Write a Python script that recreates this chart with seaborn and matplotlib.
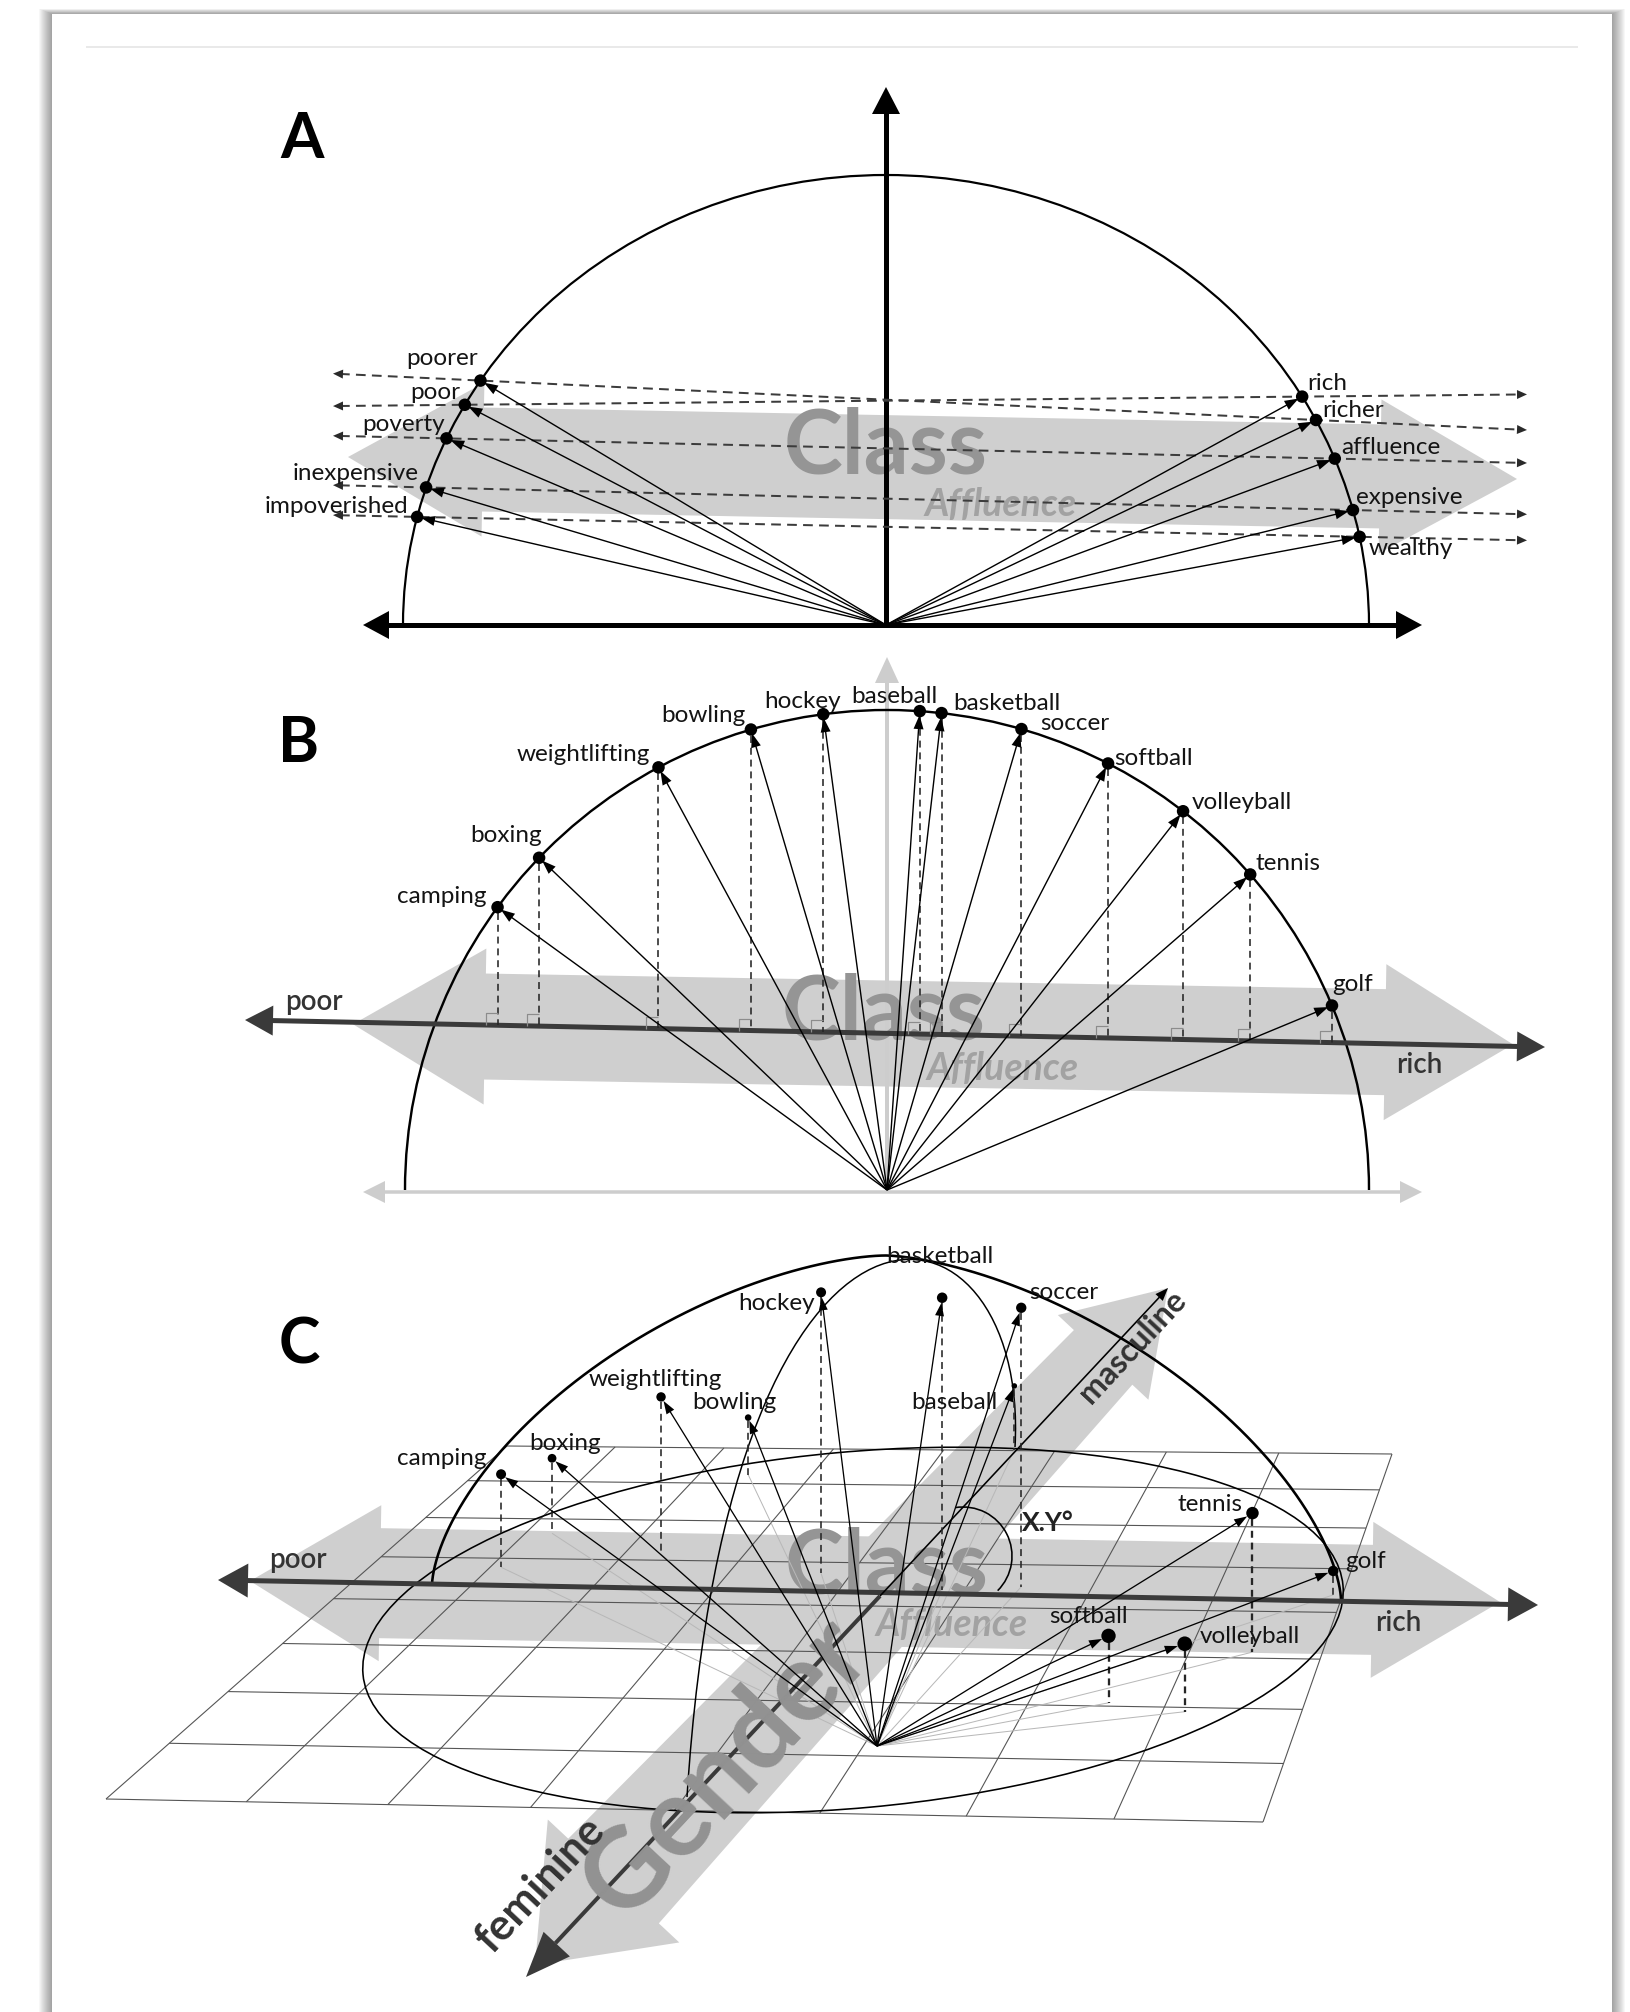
import numpy as np
import pandas as pd
import matplotlib
matplotlib.use("Agg")
import matplotlib.pyplot as plt
from matplotlib.patches import Polygon, Arc, Rectangle, Ellipse, PathPatch
from matplotlib.path import Path
import seaborn as sns

# ---------------------------------------------------------------- data
# Panel A: antonym words on the half circle (angle in degrees)
A_LEFT_WORDS = ["poorer", "poor", "poverty", "inexpensive", "impoverished"]
A_LEFT_ANGLES = [147.1, 150.7, 155.5, 162.2, 166.1]
A_RIGHT_WORDS = ["rich", "richer", "affluence", "expensive", "wealthy"]
A_RIGHT_ANGLES = [30.5, 27.1, 21.7, 14.8, 11.3]
A_PAIRS = [("poorer", "richer"), ("poor", "rich"), ("poverty", "affluence"),
           ("inexpensive", "expensive"), ("impoverished", "wealthy")]

# Panel B: sports on the half circle (angle in degrees)
B_SPORTS = ["camping", "boxing", "weightlifting", "bowling", "hockey", "baseball",
            "basketball", "soccer", "softball", "volleyball", "tennis", "golf"]
B_ANGLES = [143.9, 136.2, 118.3, 106.4, 97.6, 86.1, 83.5, 73.8, 62.7, 52.1, 41.1, 22.6]

# Panel C: sports in class / gender / height space
C_SPORTS = ["camping", "boxing", "weightlifting", "bowling", "hockey", "basketball",
            "soccer", "baseball", "tennis", "golf", "softball", "volleyball"]
C_CLASS = [-5.33, -5.14, -3.88, -3.75, -2.13, -0.79, -0.04, -1.36, 2.83, 3.10, 1.88, 2.71]
C_GENDER = [2.31, 2.78, 2.53, 3.62, 2.31, 2.12, 2.18, 4.02, 1.36, 2.15, 0.64, 0.54]
C_HEIGHT = [0.93, 0.75, 1.57, 0.57, 2.81, 2.92, 2.79, 0.64, 1.39, 0.24, 0.67, 0.68]

# label placement (alignment, dx, dy in pixels)
A_LEFT_LAYOUT = [(-3, -22), (-5, -12), (-2, -14), (-7, -14), (-9, -10)]
A_RIGHT_LAYOUT = [(5, -13), (6, -10), (6, -11), (3, -13), (9, 12)]
B_LAYOUT = [("right", -11, -11), ("right", 3, -22), ("right", -9, -13), ("right", -5, -14),
            ("right", 18, -13), ("right", 18, -15), ("left", 12, -10), ("left", 19, -6),
            ("left", 6, -5), ("left", 9, -9), ("left", 5, -11), ("left", 0, -21)]
C_LAYOUT = [("right", -15, -16), ("left", -23, -15), ("center", -6, -17), ("center", -14, -15),
            ("right", -6, 11), ("center", -2, -41), ("left", 8, -15), ("right", -17, 17),
            ("right", -10, -9), ("left", 12, -9), ("center", -20, -19), ("left", 15, -7)]

# ---------------------------------------------------------------- setup
sns.set_theme(style="white")
plt.rcParams["font.family"] = ["Lato", "DejaVu Sans"]
plt.rcParams["lines.scale_dashes"] = False
plt.rcParams["lines.solid_capstyle"] = "butt"

W, H = 1630, 2012
PT = 0.72  # points per pixel at 100 dpi
fig = plt.figure(figsize=(W / 100, H / 100), dpi=100)
ax = fig.add_axes([0, 0, 1, 1])
ax.set_xlim(0, W)
ax.set_ylim(H, 0)
ax.axis("off")

BAND = "#cfcfcf"
GREYTXT = "#959595"
AFFL = "#a2a2a2"
INK = "#141414"
AXIS_DARK = "#3a3a3a"
LBL = 17.5


def unit(v):
    v = np.asarray(v, float)
    return v / np.hypot(*v)


def head(tip, direction, length, hw, color="black", z=5):
    tip = np.asarray(tip, float)
    d = unit(direction)
    n = np.array([-d[1], d[0]])
    base = tip - d * length
    ax.add_patch(Polygon([tip, base + n * hw, base - n * hw], closed=True,
                         fc=color, ec="none", zorder=z))


def line(p0, p1, lw, color="black", z=3, dashes=None):
    ln, = ax.plot([p0[0], p1[0]], [p0[1], p1[1]], color=color, lw=lw * PT, zorder=z)
    if dashes is not None:
        ln.set_dashes(dashes)
    return ln


def arrow(p0, p1, lw, hl, hw, color="black", z=3, both=False, dashes=None, back=0.0):
    p0 = np.asarray(p0, float)
    p1 = np.asarray(p1, float)
    d = unit(p1 - p0)
    tip1 = p1 - d * back
    a = p0 + d * (hl * 0.8) if both else p0
    line(a, tip1 - d * hl * 0.8, lw, color, z, dashes)
    head(tip1, d, hl, hw, color, z + 0.5)
    if both:
        head(p0, -d, hl, hw, color, z + 0.5)


def band(t0, t1, bw0, bw1, hl0, hl1, hw0, hw1, color=BAND, z=1):
    t0 = np.asarray(t0, float)
    t1 = np.asarray(t1, float)
    d = unit(t1 - t0)
    n = np.array([-d[1], d[0]])
    b0 = t0 + d * hl0
    b1 = t1 - d * hl1
    pts = [t0, b0 + n * hw0, b0 + n * bw0, b1 + n * bw1, b1 + n * hw1, t1,
           b1 - n * hw1, b1 - n * bw1, b0 - n * bw0, b0 - n * hw0]
    ax.add_patch(Polygon(pts, closed=True, fc=color, ec="none", zorder=z))


def txt(x, y, s, size, ha="center", color=INK, z=7, **kw):
    ax.text(x, y, s, ha=ha, va="center", fontsize=size, color=color, zorder=z, **kw)


def dots(xs, ys, diam, z=6):
    df = pd.DataFrame({"x": xs, "y": ys})
    sizes = (np.asarray(diam, float) * PT) ** 2 * np.ones(len(df))
    sns.scatterplot(data=df, x="x", y="y", s=sizes, color="black", edgecolor="none",
                    linewidth=0, ax=ax, legend=False, zorder=z)


# ---------------------------------------------------------------- card
for k in range(1, 14):
    ax.add_patch(Rectangle((52 - k, 14 - 0.4 * k), 1560 + 2 * k, 2100, fc="black",
                           ec="none", alpha=0.03, zorder=0))
ax.add_patch(Rectangle((52, 14), 1560, 2100, fc="white", ec="none", zorder=0.1))
ax.plot([86, 1578], [47, 47], color="#e3e3e3", lw=1.5 * PT, zorder=0.2)

# ---------------------------------------------------------------- panel A
ACX, ACY, ARX, ARY = 886, 625, 483, 450


def a_pt(deg):
    t = np.radians(deg)
    return np.array([ACX + ARX * np.cos(t), ACY - ARY * np.sin(t)])


txt(302, 140, "A", 45, weight="bold", color="black")
band((348, 457), (1517, 479), 52, 52, 135, 137, 77, 77)
txt(886, 447, "Class", 64, weight="bold", color=GREYTXT, z=2)
txt(1001, 504, "Affluence", 27, style="italic", weight="bold", color=AFFL, z=2)

ax.add_patch(Arc((ACX, ACY), 2 * ARX, 2 * ARY, theta1=180, theta2=360,
                 color="black", lw=2.2 * PT, zorder=3))
arrow((363, ACY), (1422, ACY), 5, 26, 14, both=True, z=3)
arrow((ACX, ACY), (ACX, 87), 5, 27, 14, z=3)

a_pos = {w: a_pt(g) for w, g in zip(A_LEFT_WORDS + A_RIGHT_WORDS, A_LEFT_ANGLES + A_RIGHT_ANGLES)}
for lw_, rw_ in A_PAIRS:
    L, R = a_pos[lw_], a_pos[rw_]
    slope = (R[1] - L[1]) / (R[0] - L[0])
    x0, x1 = 333, 1527
    p0 = np.array([x0, L[1] + slope * (x0 - L[0])])
    p1 = np.array([x1, L[1] + slope * (x1 - L[0])])
    line(p0 + unit(p1 - p0) * 7, p1 - unit(p1 - p0) * 7, 2.0, "#3c3c3c", 3, (7, 4.5))
    head(p0, p0 - p1, 10, 4.5, "#2a2a2a", 3.5)
    head(p1, p1 - p0, 10, 4.5, "#2a2a2a", 3.5)

for w in A_LEFT_WORDS + A_RIGHT_WORDS:
    arrow((ACX, ACY), a_pos[w], 1.4, 14, 5, z=4, back=4)
dots([a_pos[w][0] for w in a_pos], [a_pos[w][1] for w in a_pos], 12.5)
for w, (dx, dy) in zip(A_LEFT_WORDS, A_LEFT_LAYOUT):
    txt(a_pos[w][0] + dx, a_pos[w][1] + dy, w, LBL, ha="right")
for w, (dx, dy) in zip(A_RIGHT_WORDS, A_RIGHT_LAYOUT):
    txt(a_pos[w][0] + dx, a_pos[w][1] + dy, w, LBL, ha="left")

# ---------------------------------------------------------------- panel B
BCX, BCY, BRX, BRY = 887, 1190, 482, 480


def b_pt(deg):
    t = np.radians(deg)
    return np.array([BCX + BRX * np.cos(t), BCY - BRY * np.sin(t)])


def b_axis_y(x):
    return 1020 + 0.0208 * (x - 245)


txt(299, 744, "B", 45, weight="bold", color="black")
arrow((363, 1192), (1422, 1192), 3.5, 22, 11, color="#cdcdcd", both=True, z=1.1)
arrow((BCX, BCY), (BCX, 657), 4, 26, 12, color="#cdcdcd", z=1.1)
band((353, b_axis_y(353) + 2), (1513, b_axis_y(1513) - 2), 53, 53, 132, 128, 78, 78)
txt(884, 1013, "Class", 64, weight="bold", color=GREYTXT, z=2)
txt(1003, 1068, "Affluence", 27, style="italic", weight="bold", color=AFFL, z=2)

ax.add_patch(Arc((BCX, BCY), 2 * BRX, 2 * BRY, theta1=180, theta2=360,
                 color="black", lw=2.4 * PT, zorder=3))
arrow((245, b_axis_y(245)), (1545, b_axis_y(1545)), 5, 28, 15, color=AXIS_DARK, both=True, z=3)
txt(314, 1002, "poor", 20, weight="semibold", color="#333333")
txt(1419, 1065, "rich", 20, weight="semibold", color="#333333")

b_xy = np.array([b_pt(g) for g in B_ANGLES])
for (x, y) in b_xy:
    ya = b_axis_y(x)
    line((x, y + 6), (x, ya), 1.6, "#262626", 3, (5, 3.5))
    ax.plot([x - 12, x - 12, x], [ya, ya - 12, ya - 12], color="#8c8c8c", lw=1.2 * PT, zorder=3)
    arrow((BCX, BCY), (x, y), 1.4, 14, 5, z=4, back=4)
dots(b_xy[:, 0], b_xy[:, 1], 12.5)
for s, (x, y), (ha, dx, dy) in zip(B_SPORTS, b_xy, B_LAYOUT):
    txt(x + dx, y + dy, s, LBL, ha=ha)

# ---------------------------------------------------------------- panel C
O = np.array([877.0, 1746.0])
E_CLASS = np.array([100.0, 1.9])
E_GENDER = np.array([68.0, -73.0])
E_UP = np.array([0.0, -100.0])

c_feet = np.array([O + c * E_CLASS + g * E_GENDER for c, g in zip(C_CLASS, C_GENDER)])
c_pts = np.array([f + h * E_UP for f, h in zip(c_feet, C_HEIGHT)])
c_diam = np.clip(16 - 2.6 * np.asarray(C_GENDER), 5.5, 15)

txt(299, 1345, "C", 45, weight="bold", color="black")


def homography(src, dst):
    A = []
    b = []
    for (x, y), (u, v) in zip(src, dst):
        A.append([x, y, 1, 0, 0, 0, -u * x, -u * y])
        A.append([0, 0, 0, x, y, 1, -v * x, -v * y])
        b += [u, v]
    h = np.linalg.solve(np.array(A, float), np.array(b, float))
    return np.append(h, 1).reshape(3, 3)


Hm = homography([(0, 0), (1, 0), (1, 1), (0, 1)],
                [(106, 1799), (1263, 1822), (1392, 1454), (507, 1446)])


def hp(u, v):
    p = Hm @ np.array([u, v, 1.0])
    return p[:2] / p[2]


NG = 8
for i in range(NG + 1):
    s = i / NG
    a, b = hp(s, 0), hp(s, 1)
    ax.plot([a[0], b[0]], [a[1], b[1]], color="#555555", lw=1.1 * PT, zorder=1.5)
    a, b = hp(0, s), hp(1, s)
    ax.plot([a[0], b[0]], [a[1], b[1]], color="#555555", lw=1.1 * PT, zorder=1.5)

# gender and class bands
F_TIP = np.array([535.0, 1965.0])
M_TIP = np.array([1168.0, 1288.0])
band(F_TIP, M_TIP, 62, 40, 115, 95, 90, 62, z=1)
band((250, 1581), (1500, 1602), 55, 55, 130, 128, 78, 78, z=1)

txt(887, 1568, "Class", 64, weight="bold", color=GREYTXT, z=2)
txt(952, 1624, "Affluence", 27, style="italic", weight="bold", color=AFFL, z=2)

# base ellipse, dome outline and meridian
ax.add_patch(Ellipse((853, 1630), 984, 356, angle=-5.2, fill=False, ec="black",
                     lw=1.6 * PT, zorder=3))
t = np.linspace(0, np.pi, 400)
nexp = 1.6
dx = 454.5 * np.sign(np.cos(t)) * np.abs(np.cos(t)) ** (2 / nexp)
dy = 337 * np.abs(np.sin(t)) ** (2 / nexp)
ax.plot(886.5 + dx, 1592.5 + 0.0165 * dx - dy, color="black", lw=2.6 * PT, zorder=3)
mer = Path([(687, 1797), (730, 1120), (1030, 1180), (1015, 1447)],
           [Path.MOVETO, Path.CURVE4, Path.CURVE4, Path.CURVE4])
ax.add_patch(PathPatch(mer, fill=False, ec="black", lw=1.5 * PT, zorder=3))

# class axis
arrow((218, 1580), (1538, 1605), 5, 30, 17, color=AXIS_DARK, both=True, z=3)
txt(298, 1560, "poor", 20, weight="semibold", color="#333333")
txt(1398, 1623, "rich", 20, weight="semibold", color="#333333")

# gender axis
g_dir = unit(M_TIP - F_TIP)
cross = np.array([880.0, 1596.0])
line(F_TIP + g_dir * 30, cross, 4, AXIS_DARK, 3)
arrow(cross, M_TIP, 1.6, 13, 5, color="black", z=3)
head(F_TIP + np.array([-9, 12]), -g_dir, 45, 18, AXIS_DARK, 3.5)
ang = np.degrees(np.arctan2(-(M_TIP - F_TIP)[1], (M_TIP - F_TIP)[0]))
txt(726, 1768, "Gender", 80, weight="bold", color="#929292", z=3.6, rotation=ang,
    rotation_mode="anchor")
txt(540, 1885, "feminine", 31, weight="bold", color="#333333", rotation=ang,
    rotation_mode="anchor")
txt(1132, 1347, "masculine", 23, weight="bold", color="#333333", rotation=ang,
    rotation_mode="anchor")

# angle marker
ax.add_patch(Arc((963, 1556), 98, 98, theta1=-99, theta2=45, color="black",
                 lw=1.6 * PT, zorder=3))
txt(1048, 1523, "X.Y°", 19, weight="bold", color="#222222")

# projections, vectors, points
for f, p, d in zip(c_feet, c_pts, c_diam):
    ax.plot([O[0], f[0]], [O[1], f[1]], color="#b8b8b8", lw=1.0 * PT, zorder=2.5)
    line((p[0], p[1] + d / 2), f, 1.6 if d < 12 else 2.3, "#262626", 3, (5, 3.5))
    arrow(O, p, 1.3, 13, 4.5, z=4, back=d / 2)
dots(c_pts[:, 0], c_pts[:, 1], c_diam)
for s, (x, y), (ha, dx_, dy_) in zip(C_SPORTS, c_pts, C_LAYOUT):
    txt(x + dx_, y + dy_, s, LBL, ha=ha)

ax.set_xlim(0, W)
ax.set_ylim(H, 0)
fig.savefig("out.png", dpi=100, facecolor="white")
